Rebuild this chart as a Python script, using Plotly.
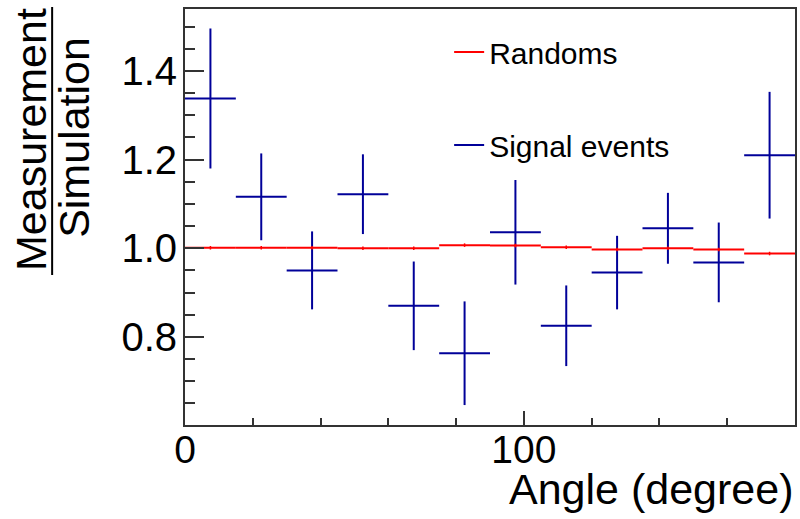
import plotly.graph_objects as go

# ---- data ----
angle_centers = [7.5, 22.5, 37.5, 52.5, 67.5, 82.5, 97.5, 112.5, 127.5, 142.5, 157.5, 172.5]
bin_half_width = [7.5, 7.5, 7.5, 7.5, 7.5, 7.5, 7.5, 7.5, 7.5, 7.5, 7.5, 7.5]

signal_ratio = [1.338, 1.116, 0.950, 1.122, 0.870, 0.763, 1.036, 0.825, 0.945, 1.045, 0.968, 1.210]
signal_err = [0.158, 0.098, 0.088, 0.090, 0.100, 0.117, 0.118, 0.091, 0.083, 0.080, 0.090, 0.143]

randoms_ratio = [1.001, 1.001, 1.001, 1.000, 1.000, 1.007, 1.006, 1.002, 0.997, 1.000, 0.997, 0.988]
randoms_err = [0.004, 0.004, 0.004, 0.004, 0.004, 0.004, 0.004, 0.004, 0.004, 0.004, 0.004, 0.004]

x_tick_vals = [0, 100]
y_tick_vals = [0.8, 1.0, 1.2, 1.4]
y_tick_text = ["0.8", "1.0", "1.2", "1.4"]

FONT = "Liberation Sans, Arial, Helvetica, sans-serif"
BLUE = "#000099"
RED = "#ff0000"
AXC = "#333333"

W, H = 800, 519
ML, MR, MT, MB = 185, 3, 9, 94
PW, PH = W - ML - MR, H - MT - MB


def px_x(p):
    return (p - ML) / PW


def px_y(p):
    return (H - MB - p) / PH


fig = go.Figure()

fig.add_trace(go.Scatter(
    x=angle_centers, y=signal_ratio, mode="markers",
    marker=dict(size=1, color="rgba(0,0,0,0)"),
    error_x=dict(type="data", array=bin_half_width, visible=True, width=0, thickness=2, color=BLUE),
    error_y=dict(type="data", array=signal_err, visible=True, width=0, thickness=2, color=BLUE),
    showlegend=False, hoverinfo="x+y",
))

fig.add_trace(go.Scatter(
    x=angle_centers, y=randoms_ratio, mode="markers",
    marker=dict(size=1, color="rgba(0,0,0,0)"),
    error_x=dict(type="data", array=bin_half_width, visible=True, width=0, thickness=2, color=RED),
    error_y=dict(type="data", array=randoms_err, visible=True, width=0, thickness=1.5, color=RED),
    showlegend=False, hoverinfo="x+y",
))

# legend entries
fig.add_trace(go.Scatter(x=[None], y=[None], mode="lines", name="Randoms",
                         line=dict(color=RED, width=2), legend="legend"))
fig.add_trace(go.Scatter(x=[None], y=[None], mode="lines", name="Signal events",
                         line=dict(color=BLUE, width=2), legend="legend2"))

leg_common = dict(font=dict(family=FONT, size=30, color="black"), bgcolor="rgba(0,0,0,0)",
                  borderwidth=0, xanchor="left", yanchor="middle")

fig.update_layout(
    width=W, height=H,
    margin=dict(l=ML, r=MR, t=MT, b=MB, pad=0),
    paper_bgcolor="white", plot_bgcolor="white",
    font=dict(family=FONT, color="black"),
    legend=dict(x=px_x(450), y=px_y(52), **leg_common),
    legend2=dict(x=px_x(450), y=px_y(145), **leg_common),
    xaxis=dict(
        range=[0, 180], showgrid=False, zeroline=False,
        showline=True, mirror=True, linecolor=AXC, linewidth=2,
        ticks="inside", tickvals=x_tick_vals, ticklen=14, tickwidth=1.5, tickcolor=AXC,
        ticklabelstandoff=-11,
        tickfont=dict(family=FONT, size=39, color="black"),
        minor=dict(dtick=20, tick0=0, ticks="inside", ticklen=7, tickwidth=1.5, tickcolor=AXC),
    ),
    yaxis=dict(
        range=[0.601, 1.54], showgrid=False, zeroline=False,
        showline=True, mirror=True, linecolor=AXC, linewidth=2,
        ticks="inside", tickvals=y_tick_vals, ticktext=y_tick_text,
        ticklen=19, tickwidth=1.5, tickcolor=AXC,
        ticklabelstandoff=-2,
        tickfont=dict(family=FONT, size=40, color="black"),
        minor=dict(dtick=0.05, tick0=0, ticks="inside", ticklen=10, tickwidth=1.5, tickcolor=AXC),
    ),
)

# x-axis title (right aligned, ROOT style)
fig.add_annotation(text="Angle (degree)", xref="paper", yref="paper",
                   x=1.0, y=px_y(489), xanchor="right", yanchor="middle",
                   showarrow=False, font=dict(family=FONT, size=43, color="black"))

# y-axis title as a fraction
fig.add_annotation(text="Measurement", xref="paper", yref="paper", textangle=-90,
                   x=px_x(30.5), y=px_y(140), xanchor="center", yanchor="middle",
                   showarrow=False, font=dict(family=FONT, size=43, color="black"))
fig.add_annotation(text="Simulation", xref="paper", yref="paper", textangle=-90,
                   x=px_x(73.5), y=px_y(137), xanchor="center", yanchor="middle",
                   showarrow=False, font=dict(family=FONT, size=43, color="black"))
fig.add_shape(type="line", xref="paper", yref="paper",
              x0=px_x(51.7), x1=px_x(51.7), y0=px_y(7), y1=px_y(275),
              line=dict(color="black", width=2))

fig.write_html("out.html")
